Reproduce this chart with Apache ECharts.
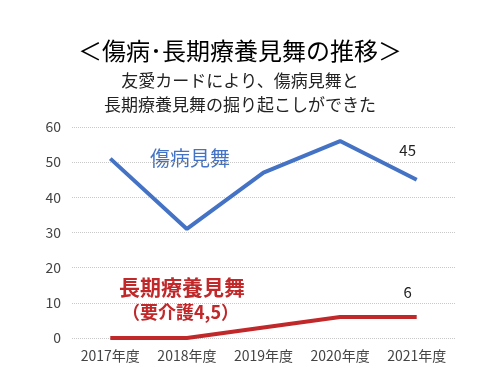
<!DOCTYPE html>
<html><head><meta charset="utf-8">
<script src="https://cdn.jsdelivr.net/npm/echarts@6/dist/echarts.min.js"></script>
<style>html,body{margin:0;padding:0;background:#fff}#c{width:480px;height:386px}</style>
</head><body><div id="c"></div>
<script>
const categories = ['2017年度','2018年度','2019年度','2020年度','2021年度'];
const shobyo = [51, 31, 47, 56, 45];
const choki = [0, 0, 3, 6, 6];
const yTicks = [0, 10, 20, 30, 40, 50, 60];

const F = '"Noto Sans CJK JP", "Noto Sans", sans-serif';
const chart = echarts.init(document.getElementById('c'));
function endMark(arr, dy){
  const i = arr.length-1;
  return {symbol:'circle',symbolSize:0,
    label:{show:true,position:'top',distance:0,offset:[-9,dy],color:'#222',fontSize:15,fontFamily:F,formatter:'{c}'},
    data:[{coord:[i, arr[i]], value:arr[i]}]};
}
chart.setOption({
  animation:false,
  title:[
    {text:'＜傷病･長期療養見舞の推移＞',left:'center',top:34,textStyle:{fontSize:24,fontWeight:'normal',color:'#000',fontFamily:F}},
    {text:'友愛カードにより、傷病見舞と',left:'center',top:67,textStyle:{fontSize:17,fontWeight:'normal',color:'#222',fontFamily:F}},
    {text:'長期療養見舞の掘り起こしができた',left:'center',top:91,textStyle:{fontSize:17,fontWeight:'normal',color:'#222',fontFamily:F}}
  ],
  grid:{left:72,right:25,top:127,bottom:48,containLabel:false},
  xAxis:{type:'category',data:categories,boundaryGap:true,
    axisLine:{show:false},axisTick:{show:false},
    axisLabel:{color:'#444',fontSize:14,fontFamily:F,margin:11,interval:0}},
  yAxis:{type:'value',min:0,max:60,interval:10,
    axisLine:{show:false},axisTick:{show:false},
    axisLabel:{color:'#444',fontSize:14,fontFamily:F,margin:11,
      formatter:v=> yTicks.includes(v)? String(v):''},
    splitLine:{lineStyle:{color:'#c8c8c8',type:'dotted',width:1}}},
  series:[
    {type:'line',data:shobyo,symbol:'none',lineStyle:{color:'#4472C4',width:4},itemStyle:{color:'#4472C4'},markPoint:endMark(shobyo,-22)},
    {type:'line',data:choki,symbol:'none',lineStyle:{color:'#C0282A',width:4},itemStyle:{color:'#C0282A'},markPoint:endMark(choki,-17)}
  ],
  graphic:[
    {type:'text',left:150,top:148,style:{text:'傷病見舞',fontSize:20,fill:'#4472C4',fontFamily:F}},
    {type:'text',left:119,top:277,style:{text:'長期療養見舞',fontSize:21,fill:'#C0282A',fontFamily:F,fontWeight:'bold'}},
    {type:'text',left:122,top:303,style:{text:'（要介護4,5）',fontSize:18,fill:'#C0282A',fontFamily:F,fontWeight:'bold'}}
  ]
});
</script></body></html>
